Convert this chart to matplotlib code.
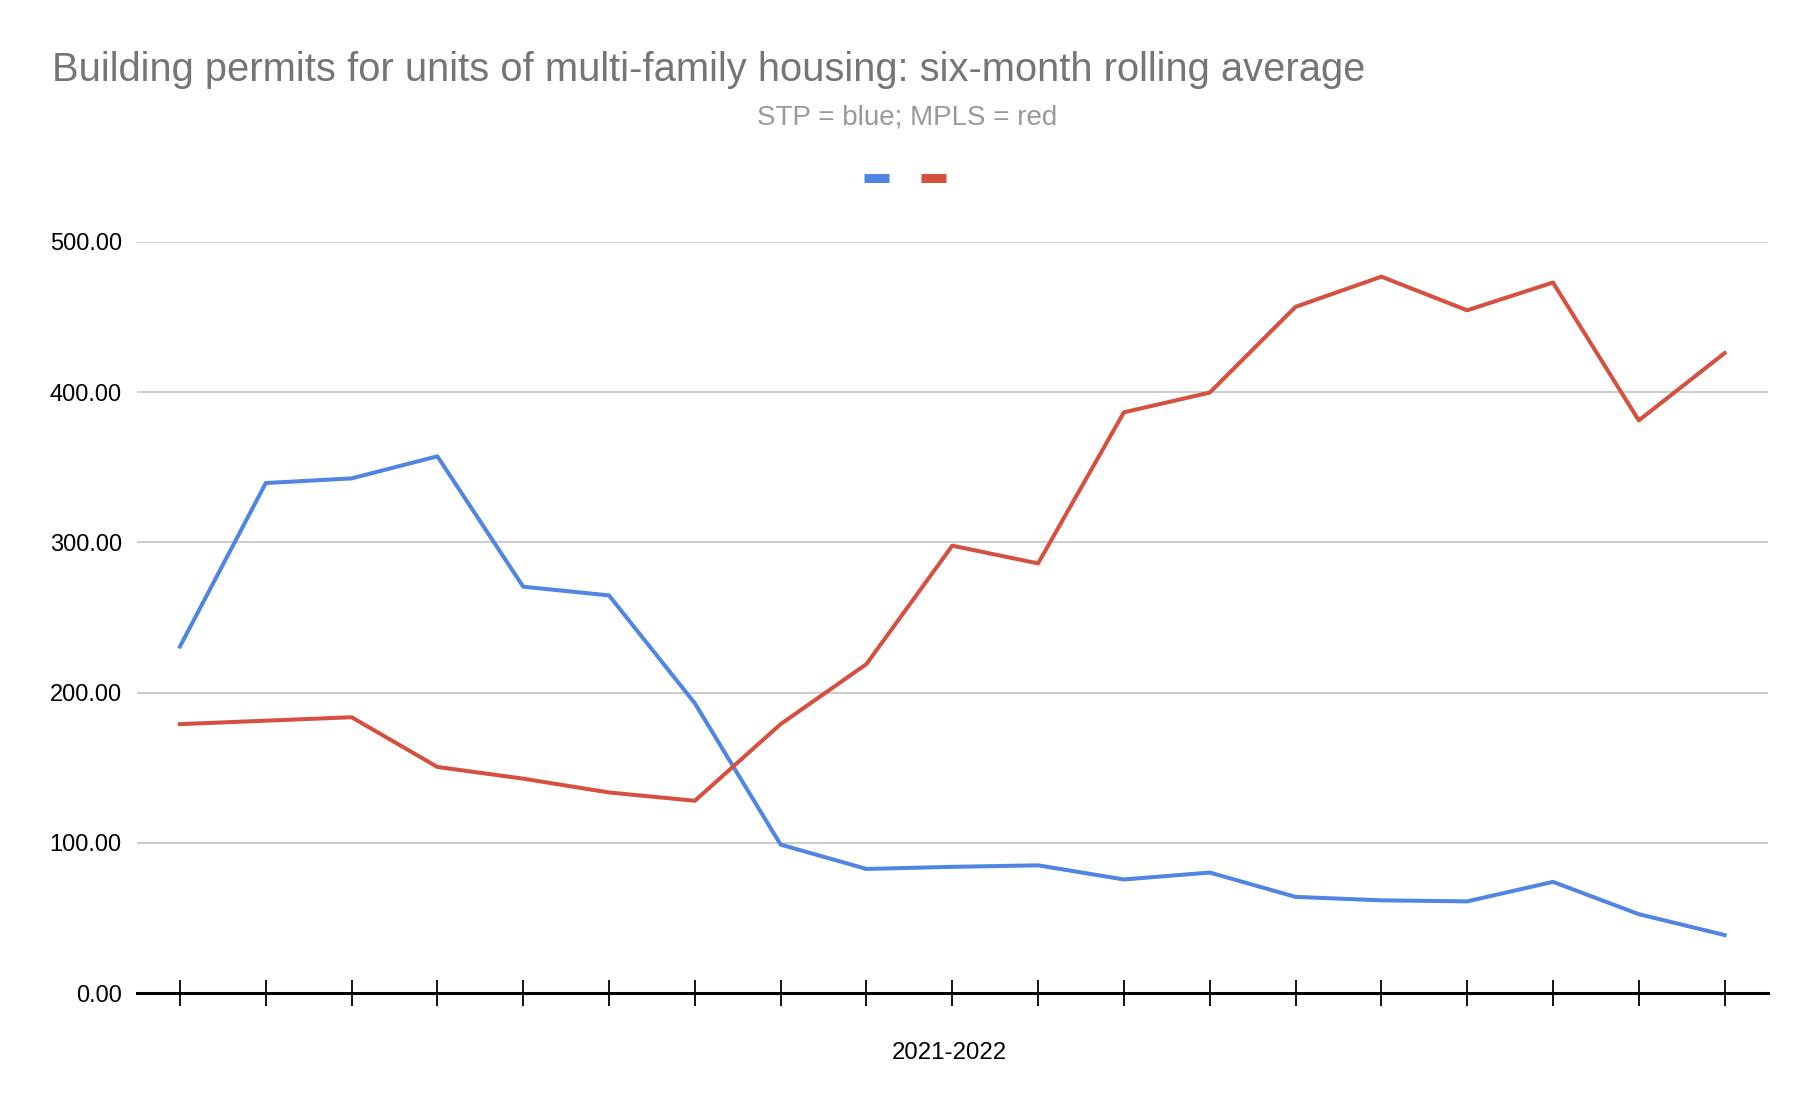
import matplotlib
matplotlib.use('Agg')
import matplotlib.pyplot as plt
from matplotlib.lines import Line2D

plt.rcParams['font.family'] = ['Liberation Sans', 'DejaVu Sans']

# six-month rolling averages, 19 periods across 2021-2022
periods = list(range(19))
stp = [230.7, 339.5, 342.6, 357.3, 270.5, 264.7, 192.9, 98.8, 82.6, 84.0,
       85.0, 75.6, 80.2, 64.0, 61.7, 61.0, 74.0, 52.5, 38.6]
mpls = [179.0, 181.3, 183.6, 150.5, 142.7, 133.5, 128.0, 179.0, 219.0, 297.8,
        286.0, 386.6, 399.7, 456.8, 476.9, 454.5, 473.0, 381.2, 426.0]
yticks = [0, 100, 200, 300, 400, 500]

blue = '#5085e4'
red = '#d5503f'

fig = plt.figure(figsize=(18.08, 11.14), dpi=100)
ax = fig.add_axes([0.0758, 0.1086, 0.9018, 0.6742])

ax.plot(periods, stp, color=blue, lw=2.9)
ax.plot(periods, mpls, color=red, lw=2.9)

ax.set_xlim(-0.5, 18.5)
ax.set_ylim(0, 500)
ax.set_yticks(yticks)
ax.set_yticklabels([f'{v:.2f}' for v in yticks], fontsize=17)
ax.set_xticks(periods)
ax.set_xticklabels([''] * len(periods))
ax.tick_params(axis='y', length=0, pad=11)
ax.tick_params(axis='x', direction='inout', length=19, width=1.3, color='black')
ax.grid(axis='y', color='#cccccc', lw=1.4)
ax.set_axisbelow(True)
for s in ['top', 'right', 'left']:
    ax.spines[s].set_visible(False)
ax.spines['bottom'].set_linewidth(2.2)
ax.spines['bottom'].set_zorder(3)

fig.text(0.0288, 0.927, 'Building permits for units of multi-family housing: six-month rolling average',
         fontsize=28.7, color='#757575', ha='left', va='baseline')
fig.text(0.502, 0.888, 'STP = blue; MPLS = red', fontsize=20, color='#999999',
         ha='center', va='baseline')
fig.text(0.525, 0.055, '2021-2022', fontsize=17.3, color='black', ha='center', va='center')

handles = [Line2D([], [], color=blue, lw=6.5, solid_capstyle='butt'),
           Line2D([], [], color=red, lw=6.5, solid_capstyle='butt')]
fig.legend(handles, ['', ''], ncol=2, loc='center', bbox_to_anchor=(0.5005, 0.839),
           frameon=False, fontsize=16.5, handlelength=1.1, handletextpad=0,
           columnspacing=1.4)

fig.savefig('out.png', dpi=100)
